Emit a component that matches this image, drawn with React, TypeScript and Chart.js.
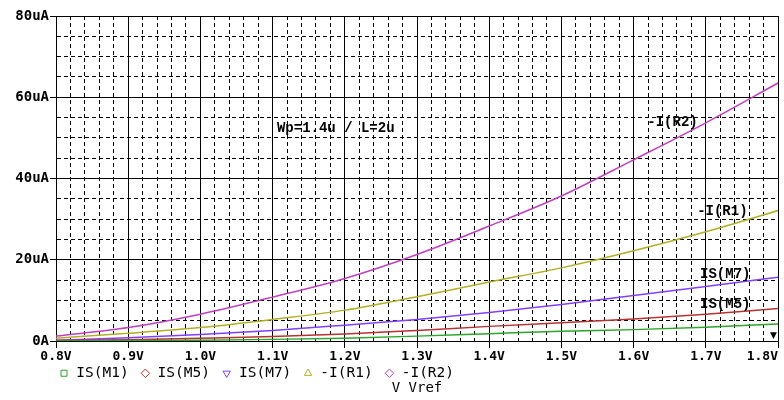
import React, { useEffect, useRef } from 'react';
import { Chart, registerables } from 'chart.js';

Chart.register(...registerables);

// ---- data ----
const vref = [0.8, 0.9, 1.0, 1.1, 1.2, 1.3, 1.4, 1.5, 1.6, 1.7, 1.8];
const isM1 = [0.0, 0.1, 0.2, 0.4, 0.7, 1.2, 1.8, 2.4, 2.8, 3.4, 4.2];
const isM5 = [0.1, 0.3, 0.7, 1.1, 1.7, 2.6, 3.6, 4.5, 5.4, 6.6, 8.0];
const isM7 = [0.2, 0.8, 1.6, 2.6, 3.9, 5.3, 7.0, 9.0, 11.2, 13.4, 15.7];
const iR1 = [0.7, 1.9, 3.3, 5.3, 7.6, 10.9, 14.5, 18.0, 22.2, 26.9, 32.1];
const iR2 = [1.2, 3.3, 6.6, 10.8, 15.4, 21.3, 28.3, 35.7, 44.6, 53.7, 63.5];

const seriesNames = ['IS(M1)', 'IS(M5)', 'IS(M7)', '-I(R1)', '-I(R2)'];
const seriesValues = [isM1, isM5, isM7, iR1, iR2];
const seriesColors = ['#2aa62a', '#b83232', '#8040ff', '#b0b024', '#c040c0'];
const seriesMarkers = ['rect', 'rectRot', 'triangle', 'triangle', 'rectRot'];
const seriesMarkerRotation = [0, 0, 180, 0, 0];

const xTickLabels = ['0.8V', '0.9V', '1.0V', '1.1V', '1.2V', '1.3V', '1.4V', '1.5V', '1.6V', '1.7V', '1.8V'];
const yTickLabels = ['0A', '20uA', '40uA', '60uA', '80uA'];
const xAxisTitle = 'V Vref';

const noteTexts = ['Wp=1.4u / L=2u', '-I(R2)', '-I(R1)', 'IS(M7)', 'IS(M5)'];
const noteX = [1.106, 1.619, 1.688, 1.692, 1.692];
const noteY = [52.2, 53.9, 31.8, 16.5, 9.1];

const MONO = '"DejaVu Sans Mono", monospace';

const xGrid: number[] = [];
for (let i = 0; i <= 50; i++) xGrid.push(Math.round((0.8 + i * 0.02) * 100) / 100);
const yGrid: number[] = [];
for (let v = 0; v <= 80; v += 5) yGrid.push(v);

const isMajorX = (v: number) => Math.abs(v * 10 - Math.round(v * 10)) < 1e-6;
const isMajorY = (v: number) => Math.abs(v % 20) < 1e-6;

const notesPlugin = {
  id: 'notes',
  afterDatasetsDraw(chart: any) {
    const { ctx, scales } = chart;
    ctx.save();
    ctx.fillStyle = '#000';
    ctx.font = 'bold 14px "Liberation Mono", monospace';
    ctx.textAlign = 'left';
    ctx.textBaseline = 'middle';
    noteTexts.forEach((t, i) => {
      ctx.fillText(t, scales.x.getPixelForValue(noteX[i]), scales.y.getPixelForValue(noteY[i]));
    });
    // small cursor marker in the lower right corner
    ctx.font = 'bold 9px "DejaVu Sans", sans-serif';
    ctx.textAlign = 'right';
    ctx.fillText('\u25BC', scales.x.getPixelForValue(1.8) - 1, scales.y.getPixelForValue(1.3));
    ctx.restore();
  },
};

export default function App() {
  const ref = useRef<HTMLCanvasElement | null>(null);
  useEffect(() => {
    if (!ref.current) return;
    const chart = new Chart(ref.current, {
      type: 'line',
      data: {
        datasets: seriesNames.map((name, s) => ({
          label: name,
          data: vref.map((x, i) => ({ x, y: seriesValues[s][i] })),
          borderColor: seriesColors[s],
          backgroundColor: '#ffffff',
          borderWidth: 1.5,
          pointRadius: 0,
          pointStyle: seriesMarkers[s] as any,
          pointRotation: seriesMarkerRotation[s],
          pointBackgroundColor: '#ffffff',
          pointBorderColor: seriesColors[s],
          pointBorderWidth: 1,
          cubicInterpolationMode: 'monotone' as const,
          fill: false,
        })),
      },
      options: {
        responsive: false,
        animation: false,
        events: [],
        layout: { padding: { left: 0, right: 6, top: 16, bottom: 5 } },
        scales: {
          x: {
            type: 'linear',
            min: 0.8,
            max: 1.8,
            afterBuildTicks: (axis: any) => {
              axis.ticks = xGrid.map((v) => ({ value: v }));
            },
            afterFit: (s: any) => {
              s.height = 22;
              s.paddingLeft = 0;
              s.paddingRight = 0;
            },
            grid: {
              color: '#000',
              lineWidth: 1,
              tickLength: 7,
              tickColor: (c: any) => (c.tick && isMajorX(c.tick.value) ? '#000' : 'rgba(0,0,0,0)'),
            },
            border: {
              display: true,
              color: '#000',
              dash: (c: any) => (c.tick && !isMajorX(c.tick.value) ? [4, 3] : []),
            },
            ticks: {
              autoSkip: false,
              maxRotation: 0,
              minRotation: 0,
              padding: 1,
              color: '#000',
              font: { family: MONO, size: 13, weight: 'bold' },
              callback: (value: any) => {
                const v = Number(value);
                if (!isMajorX(v)) return '';
                const idx = Math.round((v - 0.8) * 10);
                const lbl = xTickLabels[idx];
                return idx === xTickLabels.length - 1 ? lbl + '    ' : lbl;
              },
            },
          },
          y: {
            type: 'linear',
            min: 0,
            max: 80,
            afterBuildTicks: (axis: any) => {
              axis.ticks = yGrid.map((v) => ({ value: v }));
            },
            afterFit: (s: any) => {
              s.width = 56;
            },
            grid: {
              color: '#000',
              lineWidth: 1,
              tickLength: 6,
              tickColor: (c: any) => (c.tick && isMajorY(c.tick.value) ? '#000' : 'rgba(0,0,0,0)'),
            },
            border: {
              display: true,
              color: '#000',
              dash: (c: any) => (c.tick && !isMajorY(c.tick.value) ? [4, 3] : []),
            },
            ticks: {
              autoSkip: false,
              padding: 1,
              color: '#000',
              font: { family: MONO, size: 14, weight: 'bold' },
              callback: (value: any) => {
                const v = Number(value);
                return isMajorY(v) ? yTickLabels[Math.round(v / 20)] : '';
              },
            },
          },
        },
        plugins: {
          tooltip: { enabled: false },
          legend: {
            display: true,
            position: 'bottom',
            align: 'start',
            fullSize: false,
            maxHeight: 18,
            labels: {
              usePointStyle: true,
              boxWidth: 10,
              boxHeight: 6,
              padding: 3,
              color: '#000',
              font: { family: MONO, size: 14.5 },
              generateLabels: (chart: any) => {
                const items = Chart.defaults.plugins.legend.labels.generateLabels(chart);
                return items.map((it: any) => ({ ...it, text: it.text + ' ' }));
              },
            },
          },
          title: {
            display: true,
            text: xAxisTitle,
            position: 'bottom',
            fullSize: false,
            color: '#000',
            padding: 0,
            font: { family: MONO, size: 14, weight: 'normal', lineHeight: 1 },
          },
        },
      } as any,
      plugins: [notesPlugin],
    });
    return () => chart.destroy();
  }, []);
  return (
    <div style={{ position: 'absolute', left: 0, top: 0, width: 784, height: 400, background: '#fff' }}>
      <canvas ref={ref} width={784} height={400} style={{ display: 'block', width: 784, height: 400 }} />
    </div>
  );
}
